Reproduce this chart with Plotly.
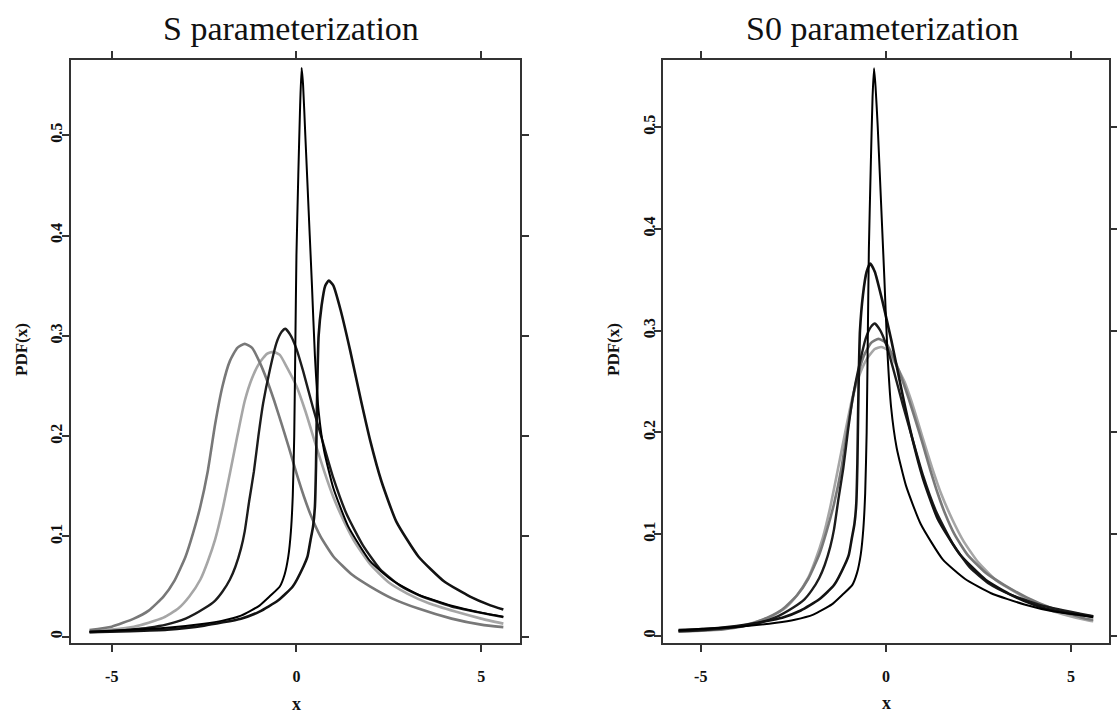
import plotly.graph_objects as go

# ---------------- data ----------------
# S parameterization (left panel)
s_a050_x = [-5.6, -4.5, -3.5, -2.5, -2.0, -1.5, -1.0, -0.7, -0.45, -0.32, -0.22, -0.15, -0.1, -0.06, -0.03, 0.0,
            0.05, 0.1, 0.14, 0.18, 0.24, 0.3, 0.36, 0.42, 0.5, 0.6, 0.75, 1.0, 1.4, 2.0, 2.6, 3.3, 4.2, 5.0, 5.6]
s_a050_y = [0.005, 0.007, 0.009, 0.013, 0.016, 0.021, 0.031, 0.041, 0.05, 0.062, 0.08, 0.105, 0.14, 0.2, 0.29, 0.38,
            0.46, 0.53, 0.567, 0.55, 0.5, 0.45, 0.4, 0.35, 0.28, 0.225, 0.185, 0.148, 0.11, 0.075, 0.056, 0.042, 0.031, 0.024, 0.02]

s_a075_x = [-5.6, -4.5, -3.5, -2.5, -1.5, -1.0, -0.5, -0.1, 0.19, 0.3, 0.38, 0.45, 0.5, 0.53, 0.55, 0.57,
            0.6, 0.68, 0.78, 0.875, 1.0, 1.2, 1.45, 1.75, 2.0, 2.3, 2.7, 3.3, 4.0, 4.7, 5.2, 5.6]
s_a075_y = [0.0045, 0.0055, 0.007, 0.011, 0.018, 0.025, 0.036, 0.05, 0.07, 0.08, 0.096, 0.11, 0.13, 0.17, 0.22, 0.26,
            0.3, 0.33, 0.35, 0.355, 0.35, 0.325, 0.286, 0.235, 0.195, 0.155, 0.115, 0.08, 0.055, 0.04, 0.032, 0.027]

a100_x = [-5.6, -5.0, -4.43, -4.0, -3.53, -3.0, -2.5, -2.2, -2.0, -1.8, -1.65, -1.5, -1.4, -1.28, -1.15, -1.03,
          -0.9, -0.72, -0.54, -0.4, -0.3, -0.15, 0.0, 0.18, 0.45, 0.73, 1.0, 1.36, 1.8, 2.26, 2.8, 3.34, 4.2, 5.24, 5.6]
a100_y = [0.0045, 0.0055, 0.0072, 0.009, 0.012, 0.018, 0.028, 0.036, 0.045, 0.057, 0.07, 0.088, 0.105, 0.135, 0.165, 0.2,
          0.233, 0.266, 0.293, 0.304, 0.307, 0.3, 0.287, 0.265, 0.228, 0.192, 0.158, 0.122, 0.091, 0.0675, 0.051, 0.041,
          0.03, 0.022, 0.0195]

s_a125_x = [-5.6, -5.0, -4.4, -4.0, -3.6, -3.3, -3.0, -2.8, -2.6, -2.4, -2.2, -2.0, -1.8, -1.6, -1.4, -1.2, -1.0,
            -0.8, -0.6, -0.4, -0.2, 0.0, 0.2, 0.4, 0.65, 1.0, 1.5, 2.0, 2.6, 3.3, 4.2, 5.0, 5.6]
s_a125_y = [0.0065, 0.010, 0.018, 0.026, 0.040, 0.056, 0.08, 0.103, 0.13, 0.165, 0.212, 0.25, 0.275, 0.288, 0.292,
            0.288, 0.274, 0.256, 0.235, 0.212, 0.188, 0.163, 0.14, 0.12, 0.1, 0.08, 0.062, 0.05, 0.038, 0.028, 0.018,
            0.012, 0.0095]

s_a150_x = [-5.6, -5.0, -4.4, -4.0, -3.6, -3.2, -2.9, -2.6, -2.4, -2.2, -2.0, -1.8, -1.6, -1.4, -1.2, -1.0, -0.8,
            -0.63, -0.45, -0.25, 0.0, 0.25, 0.5, 0.75, 1.0, 1.3, 1.6, 2.0, 2.5, 3.0, 3.6, 4.3, 5.0, 5.6]
s_a150_y = [0.005, 0.007, 0.01, 0.014, 0.019, 0.028, 0.04, 0.057, 0.075, 0.097, 0.127, 0.163, 0.2, 0.235, 0.258, 0.273,
            0.282, 0.284, 0.281, 0.268, 0.25, 0.224, 0.194, 0.165, 0.139, 0.114, 0.093, 0.072, 0.054, 0.043, 0.033,
            0.025, 0.018, 0.013]

# S0 parameterization (right panel)
s0_a050_x = [-5.6, -4.96, -3.96, -2.96, -2.46, -1.96, -1.46, -1.16, -0.91, -0.78, -0.68, -0.61, -0.56, -0.52, -0.49,
             -0.46, -0.41, -0.36, -0.32, -0.28, -0.22, -0.16, -0.1, -0.04, 0.04, 0.14, 0.29, 0.54, 0.94, 1.54, 2.14,
             2.84, 3.74, 4.54, 5.14, 5.6]
s0_a050_y = [0.0055, 0.007, 0.009, 0.013, 0.016, 0.021, 0.031, 0.041, 0.05, 0.062, 0.08, 0.105, 0.14, 0.2, 0.29,
             0.38, 0.46, 0.53, 0.558, 0.54, 0.5, 0.45, 0.4, 0.35, 0.28, 0.225, 0.185, 0.148, 0.11, 0.075, 0.056,
             0.042, 0.031, 0.024, 0.021, 0.0185]

s0_a075_x = [-5.6, -4.8, -3.8, -2.8, -2.3, -1.8, -1.4, -1.11, -1.0, -0.92, -0.85, -0.8, -0.77, -0.75, -0.73, -0.7,
             -0.62, -0.52, -0.425, -0.3, -0.1, 0.15, 0.45, 0.7, 1.0, 1.4, 2.0, 2.7, 3.4, 3.9, 4.3, 5.0, 5.6]
s0_a075_y = [0.0058, 0.007, 0.011, 0.018, 0.025, 0.036, 0.05, 0.07, 0.08, 0.096, 0.11, 0.13, 0.17, 0.22, 0.26, 0.3,
             0.335, 0.358, 0.366, 0.358, 0.33, 0.29, 0.237, 0.196, 0.155, 0.115, 0.08, 0.055, 0.04, 0.032, 0.027,
             0.022, 0.019]

s0_a125_x = [-5.6, -4.4, -3.8, -3.2, -2.8, -2.4, -2.1, -1.8, -1.6, -1.4, -1.2, -1.0, -0.8, -0.6, -0.4, -0.2, 0.0,
             0.2, 0.4, 0.6, 0.8, 1.0, 1.2, 1.4, 1.6, 1.85, 2.2, 2.7, 3.2, 3.8, 4.5, 5.4, 5.6]
s0_a125_y = [0.0048, 0.0065, 0.010, 0.018, 0.026, 0.040, 0.056, 0.08, 0.103, 0.13, 0.165, 0.212, 0.25, 0.275, 0.288,
             0.292, 0.288, 0.274, 0.256, 0.235, 0.212, 0.188, 0.163, 0.14, 0.12, 0.1, 0.08, 0.062, 0.05, 0.038, 0.027,
             0.017, 0.016]

s0_a150_x = [-5.6, -5.1, -4.5, -3.9, -3.5, -3.1, -2.7, -2.4, -2.1, -1.9, -1.7, -1.5, -1.3, -1.1, -0.9, -0.7, -0.5,
             -0.3, -0.13, 0.05, 0.25, 0.5, 0.75, 1.0, 1.25, 1.5, 1.8, 2.1, 2.5, 3.0, 3.5, 4.1, 4.8, 5.5, 5.6]
s0_a150_y = [0.0045, 0.005, 0.007, 0.01, 0.014, 0.019, 0.028, 0.04, 0.057, 0.075, 0.097, 0.127, 0.163, 0.2, 0.235,
             0.258, 0.273, 0.282, 0.284, 0.281, 0.268, 0.25, 0.224, 0.194, 0.165, 0.139, 0.114, 0.093, 0.072, 0.054,
             0.043, 0.03, 0.021, 0.015, 0.0145]

x_tick_vals = [-5, 0, 5]
x_tick_text = ["-5", "0", "5"]
y_tick_vals = [0, 0.1, 0.2, 0.3, 0.4, 0.5]
y_tick_text = ["0", "0.1", "0.2", "0.3", "0.4", "0.5"]

# ---------------- figure ----------------
W, H = 1117, 713
SERIF = "Liberation Serif, Times New Roman, serif"

styles = {
    "a150": dict(color="#a6a6a6", width=2.6),
    "a125": dict(color="#787878", width=2.6),
    "a100": dict(color="#1c1c1c", width=2.4),
    "a075": dict(color="#121212", width=2.6),
    "a050": dict(color="#000000", width=2.0),
}

fig = go.Figure()

left = [("a150", s_a150_x, s_a150_y), ("a125", s_a125_x, s_a125_y), ("a100", a100_x, a100_y),
        ("a075", s_a075_x, s_a075_y), ("a050", s_a050_x, s_a050_y)]
right = [("a150", s0_a150_x, s0_a150_y), ("a125", s0_a125_x, s0_a125_y), ("a100", a100_x, a100_y),
         ("a075", s0_a075_x, s0_a075_y), ("a050", s0_a050_x, s0_a050_y)]

for name, xs, ys in left:
    fig.add_trace(go.Scatter(x=xs, y=ys, mode="lines", line=dict(**styles[name], shape="spline", smoothing=0.5),
                             xaxis="x", yaxis="y", name=name, showlegend=False, hoverinfo="skip"))
for name, xs, ys in right:
    fig.add_trace(go.Scatter(x=xs, y=ys, mode="lines", line=dict(**styles[name], shape="spline", smoothing=0.5),
                             xaxis="x2", yaxis="y2", name=name, showlegend=False, hoverinfo="skip"))


def px_x(p):
    return p / W


def px_y(p):
    return 1 - p / H


axis_common = dict(
    showline=True, linewidth=2, linecolor="#333333", mirror="ticks",
    ticks="outside", ticklen=7, tickwidth=1.6, tickcolor="#333333",
    showgrid=False, zeroline=False,
    tickfont=dict(family=SERIF, size=16, color="#111111", weight="bold"),
)

fig.update_layout(
    width=W, height=H,
    margin=dict(l=0, r=0, t=0, b=0),
    paper_bgcolor="white", plot_bgcolor="white",
    showlegend=False,
    xaxis=dict(domain=[px_x(70.7), px_x(519.6)], range=[-6.11, 6.04], anchor="y",
               tickvals=x_tick_vals, ticktext=x_tick_text, ticklabelstandoff=10, **axis_common),
    yaxis=dict(domain=[px_y(643.3), px_y(60)], range=[-0.0066, 0.575], anchor="x",
               tickvals=y_tick_vals, ticktext=y_tick_text, tickangle=-90, ticklabelstandoff=-7, **axis_common),
    xaxis2=dict(domain=[px_x(663), px_x(1108.8)], range=[-6.02, 6.02], anchor="y2",
                tickvals=x_tick_vals, ticktext=x_tick_text, ticklabelstandoff=10, **axis_common),
    yaxis2=dict(domain=[px_y(643.3), px_y(60)], range=[-0.0072, 0.566], anchor="x2",
                tickvals=y_tick_vals, ticktext=y_tick_text, tickangle=-90, ticklabelstandoff=-7, **axis_common),
)

ann = [
    dict(text="S parameterization", x=px_x(291), y=px_y(28), size=34, angle=0, bold=False),
    dict(text="S0 parameterization", x=px_x(882), y=px_y(28), size=34, angle=0, bold=False),
    dict(text="PDF(x)", x=px_x(22), y=px_y(350), size=17, angle=-90, bold=True),
    dict(text="PDF(x)", x=px_x(614), y=px_y(350), size=17, angle=-90, bold=True),
    dict(text="x", x=px_x(296.5), y=px_y(704), size=18, angle=0, bold=True),
    dict(text="x", x=px_x(886), y=px_y(703), size=18, angle=0, bold=True),
]
for a in ann:
    fig.add_annotation(text=a["text"], x=a["x"], y=a["y"], xref="paper", yref="paper",
                       xanchor="center", yanchor="middle", showarrow=False, textangle=a["angle"],
                       font=dict(family=SERIF, size=a["size"], color="#111111",
                                 weight="bold" if a["bold"] else "normal"))

fig.write_html("out.html")
